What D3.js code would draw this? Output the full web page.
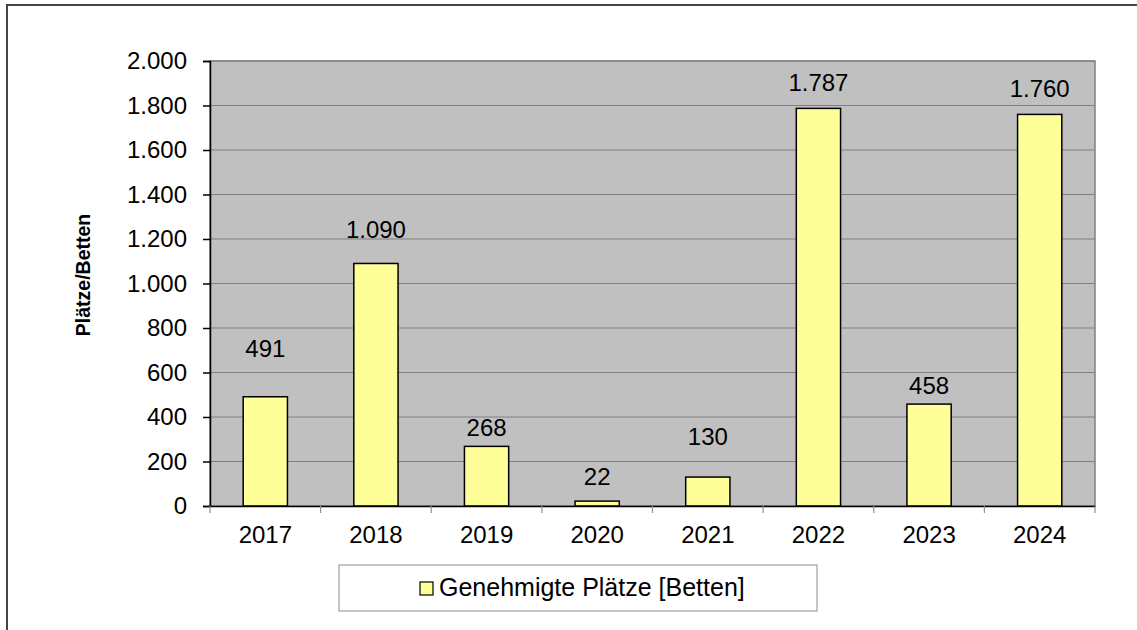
<!DOCTYPE html>
<html>
<head>
<meta charset="utf-8">
<script src="https://cdn.jsdelivr.net/npm/d3@7"></script>
<style>
    body { margin: 0; background: #fff; }
    svg { display: block; font-family: "Liberation Sans", Arial, sans-serif; }
</style>
</head>
<body>
<svg id="mainSvg" width="1137" height="630"></svg>
<script>
// Daten
const years = ["2017", "2018", "2019", "2020", "2021", "2022", "2023", "2024"];
const plaetze = [491, 1090, 268, 22, 130, 1787, 458, 1760];
const yTicks = [0, 200, 400, 600, 800, 1000, 1200, 1400, 1600, 1800, 2000];
const labelLift = [40, 25, 10, 16, 32, 17, 10, 17]; // Abstand Beschriftung über Balken (px)

const svg = d3.select('#mainSvg');
const width = +svg.attr('width'), height = +svg.attr('height');
const plot = { left: 210, right: 1095, top: 61, bottom: 506 };
const fmt = d3.formatLocale({ decimal: ",", thousands: ".", grouping: [3] }).format(",d");

// äußerer Rahmen
svg.append("rect")
    .attr("x", 7).attr("y", 5)
    .attr("width", width + 10).attr("height", height + 10)
    .attr("fill", "none")
    .attr("stroke", "#444")
    .attr("stroke-width", 2);

const x = d3.scaleBand()
    .domain(years)
    .range([plot.left, plot.right])
    .paddingInner(0.6)
    .paddingOuter(0.3);
const xCat = d3.scaleBand().domain(years).range([plot.left, plot.right]);

const y = d3.scaleLinear()
    .domain([0, 2000])
    .range([plot.bottom, plot.top]);

// Zeichenfläche
svg.append("rect")
    .attr("x", plot.left).attr("y", plot.top)
    .attr("width", plot.right - plot.left)
    .attr("height", plot.bottom - plot.top)
    .attr("fill", "#C0C0C0")
    .attr("stroke", "#808080")
    .attr("stroke-width", 1.5);

// Gitterlinien
svg.append("g")
    .selectAll("line").data(yTicks.slice(1)).join("line")
    .attr("x1", plot.left).attr("x2", plot.right)
    .attr("y1", d => y(d)).attr("y2", d => y(d))
    .attr("stroke", "#808080")
    .attr("stroke-width", 1.2);

// Balken
svg.append("g")
    .selectAll("rect").data(plaetze).join("rect")
    .attr("x", (d, i) => x(years[i]))
    .attr("y", d => y(d))
    .attr("width", x.bandwidth())
    .attr("height", d => plot.bottom - y(d))
    .attr("fill", "#FFFF99")
    .attr("stroke", "#000")
    .attr("stroke-width", 1.5);

// Wertbeschriftungen
svg.append("g")
    .selectAll("text").data(plaetze).join("text")
    .attr("x", (d, i) => x(years[i]) + x.bandwidth() / 2)
    .attr("y", (d, i) => y(d) - labelLift[i])
    .attr("text-anchor", "middle")
    .attr("font-size", "24px")
    .attr("fill", "#000")
    .text(d => fmt(d));

// y-Achse
const yAxis = svg.append("g")
    .attr("transform", `translate(${plot.left},0)`)
    .call(d3.axisLeft(y).tickValues(yTicks).tickFormat(fmt).tickSize(7).tickPadding(16));
yAxis.select(".domain").attr("stroke", "#000").attr("stroke-width", 1.5);
yAxis.selectAll(".tick line").attr("stroke", "#000").attr("stroke-width", 1.5);
yAxis.selectAll("text")
    .attr("font-size", "24px")
    .attr("font-family", "Liberation Sans, Arial, sans-serif")
    .attr("fill", "#000");

// x-Achse
const xAxis = svg.append("g")
    .attr("transform", `translate(0,${plot.bottom})`)
    .call(d3.axisBottom(xCat).tickSize(0).tickPadding(20));
xAxis.select(".domain").attr("stroke", "#000").attr("stroke-width", 1.5);
xAxis.selectAll("text")
    .attr("font-size", "24px")
    .attr("font-family", "Liberation Sans, Arial, sans-serif")
    .attr("fill", "#000");
// Teilstriche an Kategoriegrenzen
xAxis.append("g")
    .selectAll("line").data(years.concat(["end"])).join("line")
    .attr("x1", (d, i) => plot.left + i * xCat.step())
    .attr("x2", (d, i) => plot.left + i * xCat.step())
    .attr("y1", 0).attr("y2", 7)
    .attr("stroke", "#909090")
    .attr("stroke-width", 1.2);

// Achsentitel
svg.append("text")
    .attr("transform", "translate(90,275) rotate(-90)")
    .attr("text-anchor", "middle")
    .attr("font-size", "19.5px")
    .attr("font-weight", "bold")
    .text("Plätze/Betten");

// Legende
const legend = svg.append("g");
legend.append("rect")
    .attr("x", 339).attr("y", 565)
    .attr("width", 478).attr("height", 46)
    .attr("fill", "#fff")
    .attr("stroke", "#A0A0A0")
    .attr("stroke-width", 1.2);
legend.append("rect")
    .attr("x", 420).attr("y", 582)
    .attr("width", 13).attr("height", 13)
    .attr("fill", "#FFFF99")
    .attr("stroke", "#000")
    .attr("stroke-width", 1.2);
legend.append("text")
    .attr("x", 439).attr("y", 596)
    .attr("font-size", "25px")
    .text("Genehmigte Plätze [Betten]");
</script>
</body>
</html>
